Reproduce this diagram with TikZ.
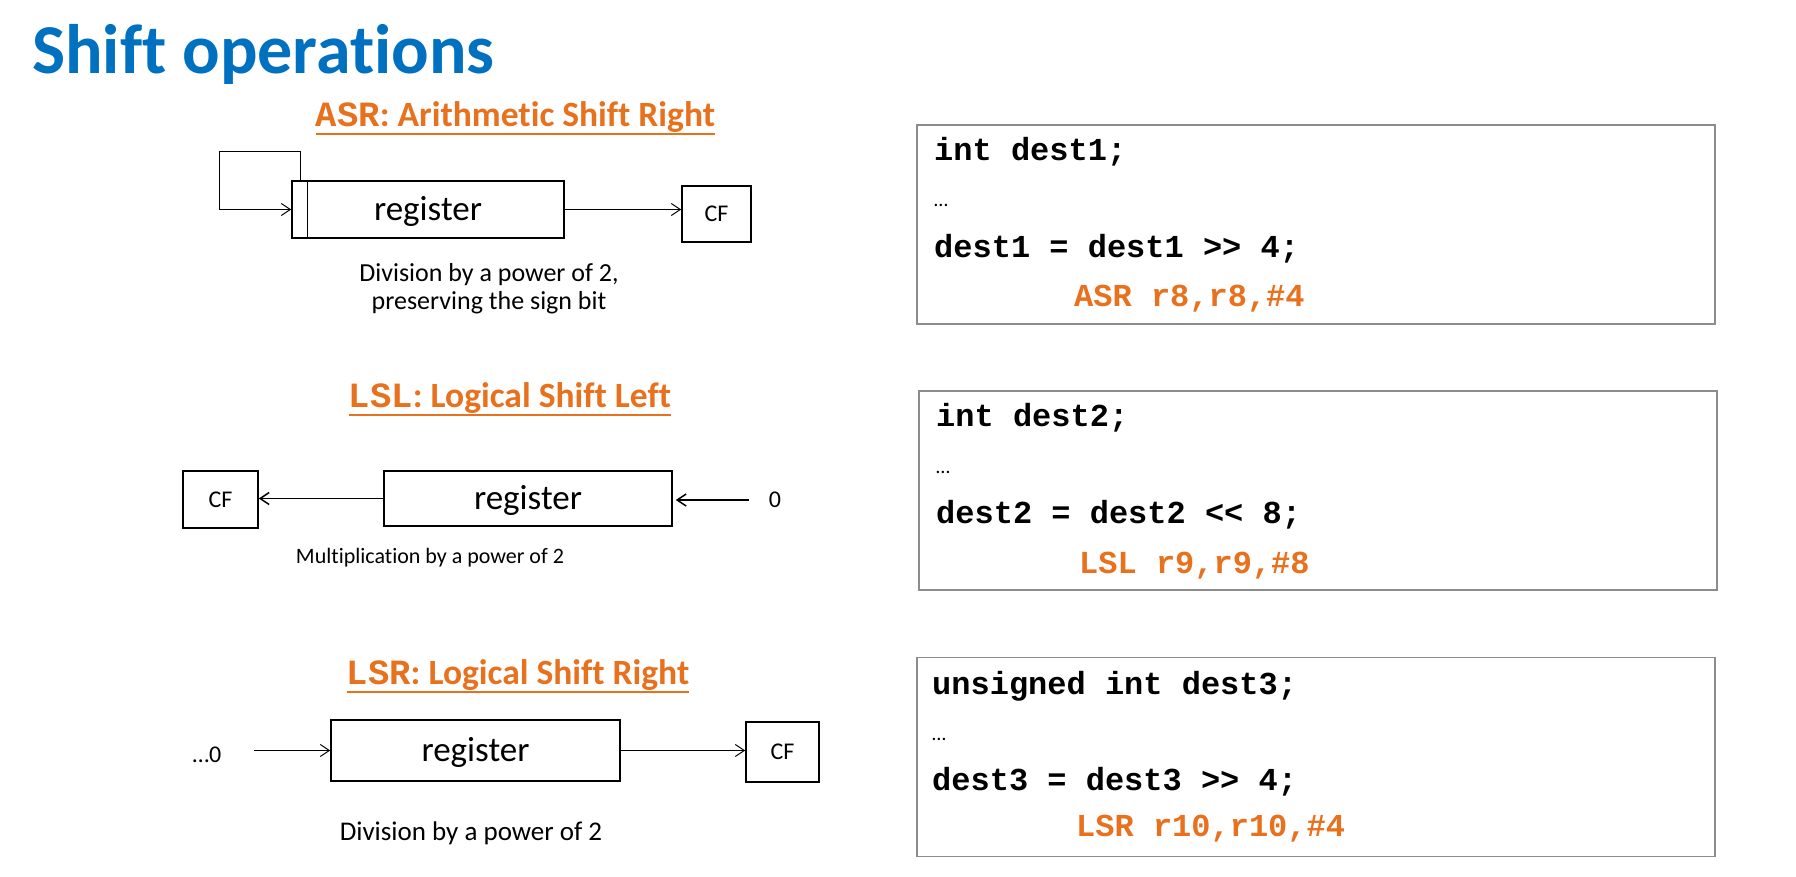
\documentclass[tikz,border=0pt]{standalone}
\usepackage{fontspec}
\setmainfont{Carlito}[Ligatures=NoCommon]
\newfontfamily\monofont{Liberation Mono}
\usetikzlibrary{arrows.meta}
\definecolor{titleblue}{RGB}{0,112,192}
\definecolor{hdorange}{RGB}{232,113,30}
\definecolor{boxgray}{RGB}{140,140,140}
\newcommand\setfs[2]{\fontsize{#1pt}{#2pt}\selectfont}
\begin{document}
\begin{tikzpicture}[x=1pt,y=-1pt,
  reg/.style={draw, line width=1.6pt, inner sep=0pt, font=\setfs{35}{40}},
  cfbox/.style={draw, line width=1.6pt, inner sep=0pt, font=\setfs{24}{28}},
  arr/.style={-{Straight Barb[length=9pt,width=12pt]}, line width=1pt},
  heading/.style={inner sep=0pt, anchor=base, text=hdorange, font=\bfseries\setfs{35.5}{40}},
  uline/.style={draw=hdorange, line width=2pt},
  caption/.style={align=center, inner sep=0pt, font=\setfs{26}{28}},
  lbl/.style={inner sep=0pt, font=\setfs{24}{28}},
  codebox/.style={draw=boxgray, line width=1.5pt, inner sep=0pt, minimum width=798pt, minimum height=199pt},
  code/.style={anchor=base west, inner sep=0pt, font=\monofont\bfseries\setfs{32}{36}},
  asm/.style={code, text=hdorange},
  dots/.style={anchor=base west, inner sep=0pt, font=\setfs{20}{24}}
]
\useasboundingbox[fill=white] (0,0) rectangle (1796,876);

% title
\node[anchor=base west, inner sep=0pt, text=titleblue, font=\bfseries\setfs{70}{80}] (title) at (32,73) {Shift operations};

% ---------- ASR ----------
\node[heading] (h1) at (515.5,126) {{\monofont ASR}: Arithmetic Shift Right};
\draw[uline] ([yshift=-8pt]h1.base west) -- ([yshift=-8pt]h1.base east);
\node[reg, minimum width=272pt, minimum height=57pt, text depth=3pt] (r1) at (428,209.5) {register};
\draw[line width=1pt] ([xshift=16pt]r1.north west) -- ([xshift=16pt]r1.south west);
\coordinate (lt) at (219,151);
\draw[arr] ([xshift=9pt]r1.north west) |- (lt) |- (r1.west);
\node[cfbox, minimum width=69pt, minimum height=56pt] (cf1) at (716.5,214) {CF};
\draw[arr] (r1.east) -- (r1.east -| cf1.west);
\node[caption] (c1) at (489,289) {Division by a power of 2,\\preserving the sign bit};

% ---------- LSL ----------
\node[heading] (h2) at (510,407) {{\monofont LSL}: Logical Shift Left};
\draw[uline] ([yshift=-8pt]h2.base west) -- ([yshift=-8pt]h2.base east);
\node[cfbox, minimum width=75pt, minimum height=57pt] (cf2) at (220.5,499.5) {CF};
\node[reg, minimum width=288pt, minimum height=55pt, text depth=3pt] (r2) at (528,498.5) {register};
\node[lbl] (z2) at (775,500) {0};
\draw[arr, line width=1.5pt] (r2.west) -- (r2.west -| cf2.east);
\draw[arr, line width=1.5pt, shorten <=20pt, shorten >=3pt] (z2.west) -- (z2.west -| r2.east);
\node[caption, font=\setfs{22}{26}] (c2) at (430,558) {Multiplication by a power of 2};

% ---------- LSR ----------
\node[heading] (h3) at (518,684) {{\monofont LSR}: Logical Shift Right};
\draw[uline] ([yshift=-8pt]h3.base west) -- ([yshift=-8pt]h3.base east);
\node[lbl] (z3) at (207,755) {…0};
\node[reg, minimum width=289pt, minimum height=61pt, text depth=3pt] (r3) at (475.5,750.5) {register};
\node[cfbox, minimum width=73pt, minimum height=60pt] (cf3) at (782.5,752) {CF};
\draw[arr, shorten <=47pt] (z3.center |- r3.west) -- (r3.west);
\draw[arr] (r3.east) -- (r3.east -| cf3.west);
\node[caption, font=\setfs{27}{30}] (c3) at (471,833) {Division by a power of 2};

% ---------- code boxes ----------
\node[codebox] (cb1) at (1316,224.5) {};
\node[code] (l11) at (934,160) {int dest1;};
\node[dots] (l12) at (934,206) {…};
\node[code] (l13) at (934,257) {dest1 = dest1 >> 4;};
\node[asm] (l14) at (1074,306) {ASR r8,r8,\#4};

\node[codebox] (cb2) at (1318,490.5) {};
\node[code] (l21) at (936,426) {int dest2;};
\node[dots] (l22) at (936,473) {…};
\node[code] (l23) at (936,523) {dest2 = dest2 << 8;};
\node[asm] (l24) at (1079,573) {LSL r9,r9,\#8};

\node[codebox] (cb3) at (1316,757) {};
\node[code] (l31) at (932,694) {unsigned int dest3;};
\node[dots] (l32) at (932,740) {…};
\node[code] (l33) at (932,790) {dest3 = dest3 >> 4;};
\node[asm] (l34) at (1076,836) {LSR r10,r10,\#4};
\end{tikzpicture}
\end{document}
